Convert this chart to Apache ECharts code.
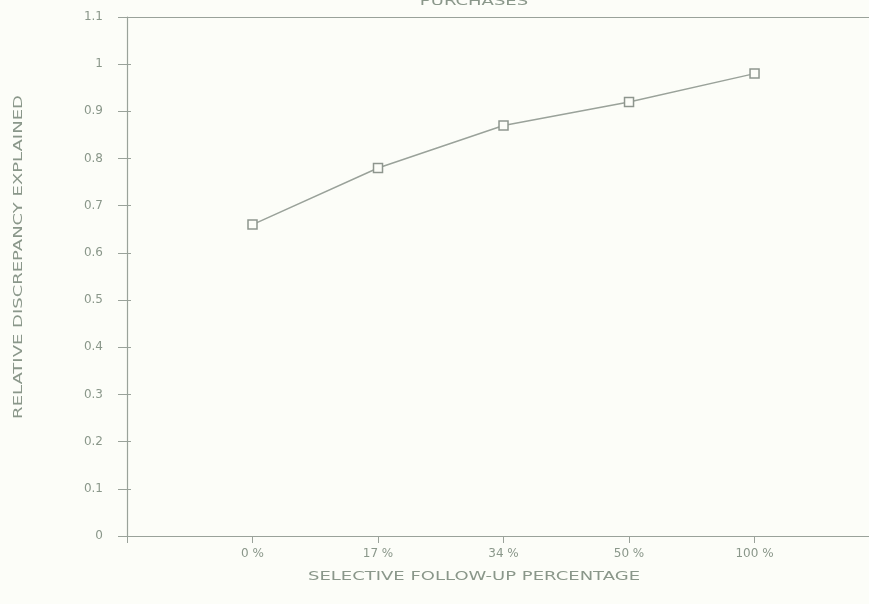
<!DOCTYPE html>
<html>
<head>
<meta charset="utf-8">
<script src="https://cdn.jsdelivr.net/npm/echarts@6/dist/echarts.min.js"></script>
<style>
html,body{margin:0;padding:0;background:#fcfdf8;}
#chart{width:869px;height:604px;}
</style>
</head>
<body>
<div id="chart"></div>
<script>
var categories = ['0 %', '17 %', '34 %', '50 %', '100 %'];
var values = [0.66, 0.78, 0.87, 0.92, 0.98];
var yTicks = ['0', '0.1', '0.2', '0.3', '0.4', '0.5', '0.6', '0.7', '0.8', '0.9', '1', '1.1'];
var titleText = 'PURCHASES';
var xName = 'SELECTIVE FOLLOW-UP PERCENTAGE';
var yName = 'RELATIVE DISCREPANCY EXPLAINED';

var textColor = '#8a978a';
var lineColor = '#9aa29a';
var font = 'DejaVu Sans';

var chart = echarts.init(document.getElementById('chart'), null, {renderer: 'canvas'});
var seriesData = values.map(function (v, i) { return [i + 1, v]; });

chart.setOption({
  backgroundColor: '#fcfdf8',
  animation: false,
  grid: {left: 127, top: 17, right: 0, height: 519, outerBoundsMode: 'none'},
  graphic: [
    {type: 'text', x: 474, y: 2, scaleX: 1.5, style: {text: titleText, fill: textColor, font: '12px "DejaVu Sans"', textAlign: 'center', textVerticalAlign: 'middle'}},
    {type: 'text', x: 474, y: 577, scaleX: 1.5, style: {text: xName, fill: textColor, font: '12px "DejaVu Sans"', textAlign: 'center', textVerticalAlign: 'middle'}},
    {type: 'text', x: 19, y: 257, rotation: Math.PI / 2, scaleX: 1.5, style: {text: yName, fill: textColor, font: '12px "DejaVu Sans"', textAlign: 'center', textVerticalAlign: 'middle'}}
  ],
  xAxis: [{
    type: 'value', min: 0, max: 5.912, interval: 1, position: 'bottom',
    axisLine: {show: true, lineStyle: {color: lineColor, width: 1.2}},
    axisTick: {show: true, length: 7, lineStyle: {color: lineColor}},
    splitLine: {show: false},
    axisLabel: {
      margin: 12, color: textColor, fontFamily: font, fontSize: 12, showMaxLabel: false,
      formatter: function (v) { return (v >= 1 && v <= categories.length) ? categories[v - 1] : ''; }
    }
  }, {
    type: 'value', min: 0, max: 5.912, position: 'top',
    axisLine: {show: true, onZero: false, lineStyle: {color: lineColor, width: 1.2}},
    axisTick: {show: false}, axisLabel: {show: false}, splitLine: {show: false}
  }],
  yAxis: [{
    type: 'value', min: 0, max: 1.1, interval: 0.1,
    axisLine: {show: true, lineStyle: {color: lineColor, width: 1.2}},
    axisTick: {show: true, length: 9, lineStyle: {color: lineColor}},
    splitLine: {show: false},
    axisLabel: {
      margin: 24, color: textColor, fontFamily: font, fontSize: 12,
      formatter: function (v) { return yTicks[Math.round(v * 10)]; }
    }
  }, {
    type: 'value', min: 0, max: 1.1, interval: 0.1, position: 'left',
    axisLine: {show: false},
    axisTick: {show: true, inside: true, length: 4, lineStyle: {color: lineColor}},
    axisLabel: {show: false}, splitLine: {show: false}
  }],
  series: [{
    type: 'line',
    data: seriesData,
    symbol: 'rect',
    symbolSize: 9,
    lineStyle: {color: lineColor, width: 1.5},
    itemStyle: {color: '#fcfdf8', borderColor: '#8e968e', borderWidth: 1.5}
  }]
});
</script>
</body>
</html>
